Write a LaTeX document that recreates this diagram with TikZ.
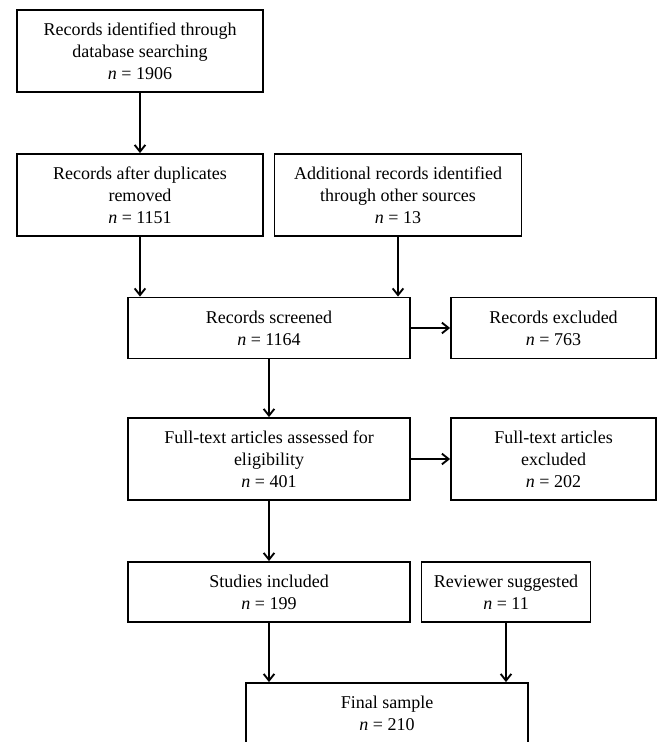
\documentclass[tikz,border=0pt]{standalone}
\usepackage{fontspec}
\setmainfont{Liberation Serif}
\usetikzlibrary{arrows.meta}
\tikzset{
  box/.style={draw, line width=1.4pt, inner sep=0pt, align=center, font=\fontsize{13.5}{16.5}\selectfont},
  flow/.style={line width=1.4pt, -{Straight Barb[length=5pt,width=8pt,line width=1.4pt]}}
}
\begin{document}
\begin{tikzpicture}[x=0.75pt,y=0.75pt,yscale=-1,xscale=1]
\useasboundingbox (0,0) rectangle (659,742);
\clip (0,0) rectangle (659,742);

%Shape: Rectangle [id:search]
\node (srch) [box, minimum width=184.5pt, minimum height=61.5pt] at (140,51) {Records identified through\\database searching\\\textit{n} = 1906};
%Shape: Rectangle [id:dup]
\node (dup) [box, minimum width=184.5pt, minimum height=61.5pt] at (140,195) {Records after duplicates\\removed\\\textit{n} = 1151};
%Shape: Rectangle [id:add]
\node (add) [box, minimum width=185.25pt, minimum height=61.5pt] at (398,195) {Additional records identified\\through other sources\\\textit{n} = 13};
%Shape: Rectangle [id:scr]
\node (scr) [box, minimum width=211.5pt, minimum height=45.75pt] at (269,328) {Records screened\\\textit{n} = 1164};
%Shape: Rectangle [id:excl]
\node (excl) [box, minimum width=153.75pt, minimum height=45.75pt] at (553.5,328) {Records excluded\\\textit{n} = 763};
%Shape: Rectangle [id:full]
\node (full) [box, minimum width=211.5pt, minimum height=61.5pt] at (269,459) {Full-text articles assessed for\\eligibility\\\textit{n} = 401};
%Shape: Rectangle [id:fexcl]
\node (fexcl) [box, minimum width=153.75pt, minimum height=61.5pt] at (553.5,459) {Full-text articles\\excluded\\\textit{n} = 202};
%Shape: Rectangle [id:incl]
\node (incl) [box, minimum width=211.5pt, minimum height=45pt] at (269,592) {Studies included\\\textit{n} = 199};
%Shape: Rectangle [id:rev]
\node (rev) [box, minimum width=126.75pt, minimum height=45pt] at (506,592) {Reviewer suggested\\\textit{n} = 11};
%Shape: Rectangle [id:fin]
\node (fin) [box, minimum width=211.5pt, minimum height=45pt] at (387,713) {Final sample\\\textit{n} = 210};

%Straight Lines
\draw [flow] (srch) -- (dup);
\draw [flow] (dup.south) -- (dup.south |- scr.north);
\draw [flow] (add.south) -- (add.south |- scr.north);
\draw [flow] (scr) -- (excl);
\draw [flow] (scr) -- (full);
\draw [flow] (full) -- (fexcl);
\draw [flow] (full) -- (incl);
\draw [flow] (incl.south) -- (incl.south |- fin.north);
\draw [flow] (rev.south) -- (rev.south |- fin.north);

\end{tikzpicture}
\end{document}
